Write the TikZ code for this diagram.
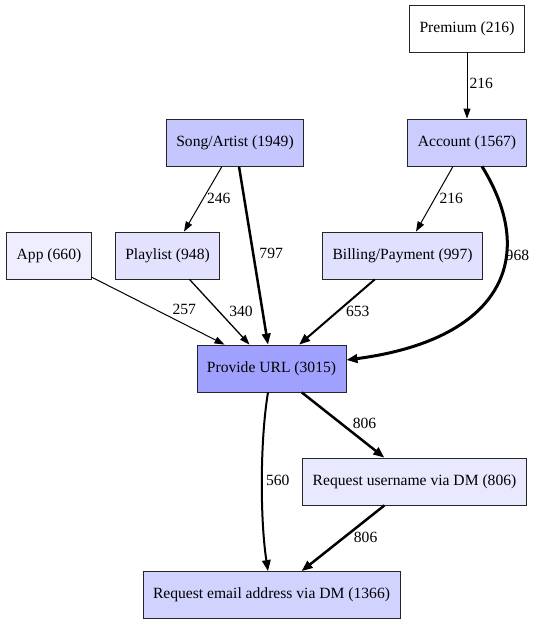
\documentclass[tikz,border=0pt]{standalone}
\usepackage{fontspec}
\setmainfont{Liberation Serif}
\usetikzlibrary{arrows.meta}

\definecolor{cPremium}{HTML}{FFFFFF}
\definecolor{cAccount}{HTML}{CCCCFF}
\definecolor{cSong}{HTML}{C6C6FF}
\definecolor{cApp}{HTML}{EEEEFF}
\definecolor{cPlaylist}{HTML}{E2E2FF}
\definecolor{cBilling}{HTML}{E0E0FF}
\definecolor{cUrl}{HTML}{A0A0FF}
\definecolor{cUser}{HTML}{E8E8FF}
\definecolor{cEmail}{HTML}{D2D2FF}

\tikzset{
	box/.style={draw=black!85, line width=0.8pt, rectangle, minimum height=47pt, inner xsep=10pt,
		font=\fontsize{15.6}{18}\selectfont},
	flow/.style={-{Triangle[length=10pt,width=7pt]}, black},
	heavy/.style={-{Triangle[length=11pt,width=8.5pt]}},
	lbl/.style={font=\fontsize{15.6}{18}\selectfont, inner sep=0pt, anchor=west}
}

\begin{document}
\begin{tikzpicture}[x=1pt, y=-1pt]
		\useasboundingbox (0,0) rectangle (536,625);

		% boxes
		\node[box, fill=cPremium] (premium) at (467,29) {Premium (216)};
		\node[box, fill=cAccount] (account) at (467,142.5) {Account (1567)};
		\node[box, fill=cSong] (song) at (235,142.5) {Song/Artist (1949)};
		\node[box, fill=cApp] (app) at (49,255.5) {App (660)};
		\node[box, fill=cPlaylist] (playlist) at (167.5,255.5) {Playlist (948)};
		\node[box, fill=cBilling] (billing) at (402.5,255.5) {Billing/Payment (997)};
		\node[box, fill=cUrl] (url) at (271.5,368.5) {Provide URL (3015)};
		\node[box, fill=cUser] (user) at (414.5,481.5) {Request username via DM (806)};
		\node[box, fill=cEmail] (email) at (271.5,595) {Request email address via DM (1366)};

		% edges
		\draw[flow, line width=1pt] (premium) -- node[lbl, pos=0.47, xshift=2pt] {216} (account);
		\draw[flow, line width=1pt] ([xshift=-14pt]account.south) -- node[lbl, pos=0.485, xshift=4pt] {216} ([xshift=13.5pt]billing.north);
		\draw[flow, heavy, line width=3pt] ([xshift=15pt]account.south)
			.. controls +(58,94) and +(152,-20) .. node[lbl, pos=0.34, xshift=-2pt] {968} ([yshift=8.5pt]url.east);

		\draw[flow, line width=1pt] ([xshift=-13pt]song.south) -- node[lbl, pos=0.485, xshift=3pt] {246} ([xshift=16.5pt]playlist.north);
		\draw[flow, heavy, line width=2.5pt] ([xshift=4pt]song.south) -- node[lbl, pos=0.49, xshift=5pt] {797} ([xshift=-3.5pt]url.north);

		\draw[flow, line width=1pt] (app) -- node[lbl, pos=0.485, xshift=16pt] {257} (url);
		\draw[flow, line width=1.3pt] (playlist) -- node[lbl, pos=0.485, xshift=10pt] {340} (url);
		\draw[flow, heavy, line width=2pt] (billing) -- node[lbl, pos=0.485, xshift=7pt] {653} (url);

		\draw[flow, heavy, line width=2.5pt] (url) -- node[lbl, pos=0.47, xshift=11pt] {806} (user);
		\draw[flow, heavy, line width=2pt] ([xshift=-3.5pt]url.south)
			.. controls +(-8,48) and +(-8,-52) .. node[lbl, pos=0.5, xshift=3pt] {560} ([xshift=-3.5pt]email.north);
		\draw[flow, heavy, line width=2.5pt] (user) -- node[lbl, pos=0.48, xshift=8pt] {806} (email);
	\end{tikzpicture}
\end{document}
